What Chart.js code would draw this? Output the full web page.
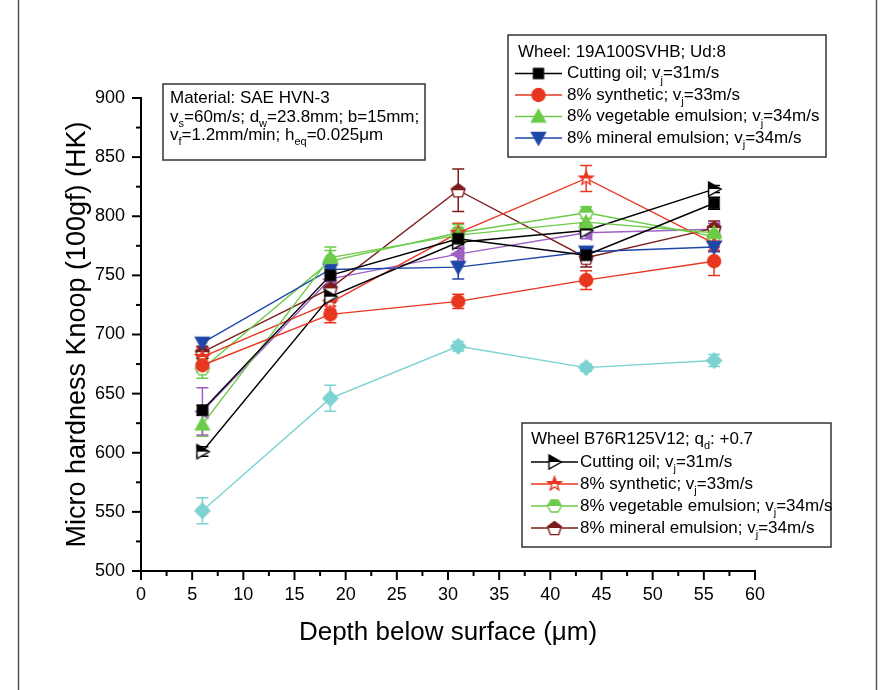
<!DOCTYPE html>
<html>
<head>
<meta charset="utf-8">
<script src="https://cdn.jsdelivr.net/npm/chart.js@4.4.0/dist/chart.umd.min.js"></script>
<style>
  html, body { margin: 0; padding: 0; background: #fff; }
  canvas { display: block; }
</style>
</head>
<body>
<canvas id="chart" width="883" height="690"></canvas>
<script>
// depth below surface (um)
const depth = [6, 18.5, 31, 43.5, 56];
const xTicks = [0, 5, 10, 15, 20, 25, 30, 35, 40, 45, 50, 55, 60];
const yTicks = [500, 550, 600, 650, 700, 750, 800, 850, 900];

// wheel 19A100SVHB
const oil19 = [636, 750, 781, 767, 811];
const oil19Err = [4, 5, 5, 4, 5];
const syn19 = [674, 717, 728, 746, 762];
const syn19Err = [6, 7, 6, 8, 12];
const veg19 = [624, 765, 784, 795, 786];
const veg19Err = [10, 9, 6, 6, 5];
const min19 = [693, 755, 757, 770, 774];
const min19Err = [4, 5, 10, 4, 4];

// wheel B76R125V12
const oilB76 = [601, 732, 778, 788, 823];
const oilB76Err = [4, 5, 5, 4, 3];
const synB76 = [681, 727, 786, 832, 777];
const synB76Err = [8, 6, 8, 11, 6];
const vegB76 = [671, 762, 786, 803, 783];
const vegB76Err = [8, 9, 7, 5, 6];
const minB76 = [685, 739, 822, 765, 790];
const minB76Err = [5, 6, 18, 8, 6];

// two more series without legend entry
const purple = [635, 747, 768, 786, 789];
const purpleErr = [20, 5, 6, 5, 5];
const cyan = [551, 646, 690, 672, 678];
const cyanErr = [11, 11, 4, 3, 5];

const C = {
    black: '#000000', red: '#e8361f', green: '#6ccb48', blue: '#1f47a8',
    brown: '#7b1d1d', purple: '#9e60c4', cyan: '#7dd2d2'
};

function shapePath(shape) {
    const p = new Path2D();
    if (shape === 'square') p.rect(-5, -5, 10, 10);
    else if (shape === 'circle') p.arc(0, 0, 6.5, 0, Math.PI * 2);
    else if (shape === 'up') { p.moveTo(0, -7); p.lineTo(7, 5.5); p.lineTo(-7, 5.5); p.closePath(); }
    else if (shape === 'down') { p.moveTo(0, 7); p.lineTo(7, -5.5); p.lineTo(-7, -5.5); p.closePath(); }
    else if (shape === 'right') { p.moveTo(7, 0); p.lineTo(-5.5, -7); p.lineTo(-5.5, 7); p.closePath(); }
    else if (shape === 'left') { p.moveTo(-7, 0); p.lineTo(5.5, -7); p.lineTo(5.5, 7); p.closePath(); }
    else if (shape === 'diamond') { p.moveTo(0, -7.5); p.lineTo(7.5, 0); p.lineTo(0, 7.5); p.lineTo(-7.5, 0); p.closePath(); }
    else if (shape === 'star') {
        for (let i = 0; i < 10; i++) {
            const r = i % 2 ? 3 : 7.2;
            const a = -Math.PI / 2 + i * Math.PI / 5;
            if (i === 0) p.moveTo(r * Math.cos(a), r * Math.sin(a));
            else p.lineTo(r * Math.cos(a), r * Math.sin(a));
        }
        p.closePath();
    } else if (shape === 'hexagon') {
        for (let i = 0; i < 6; i++) {
            const a = i * Math.PI / 3;
            if (i === 0) p.moveTo(7 * Math.cos(a), 7 * Math.sin(a));
            else p.lineTo(7 * Math.cos(a), 7 * Math.sin(a));
        }
        p.closePath();
    } else if (shape === 'pentagon') {
        for (let i = 0; i < 5; i++) {
            const a = -Math.PI / 2 + i * 2 * Math.PI / 5;
            if (i === 0) p.moveTo(7.2 * Math.cos(a), 7.2 * Math.sin(a) + 0.8);
            else p.lineTo(7.2 * Math.cos(a), 7.2 * Math.sin(a) + 0.8);
        }
        p.closePath();
    }
    return p;
}

function makeMarker(shape, color, half) {
    const c = document.createElement('canvas');
    c.width = 20; c.height = 20;
    const g = c.getContext('2d');
    g.translate(10, 10);
    const p = shapePath(shape);
    g.lineWidth = 1.4;
    g.strokeStyle = color;
    if (half) {
        g.fillStyle = '#fff';
        g.fill(p);
        g.save();
        g.beginPath();
        g.rect(-10, -10, 20, 10);
        g.clip();
        g.fillStyle = color;
        g.fill(p);
        g.restore();
    } else {
        g.fillStyle = color;
        g.fill(p);
    }
    g.stroke(p);
    return c;
}

const series = [
    { label: 'oil19', data: oil19, err: oil19Err, color: C.black, marker: makeMarker('square', C.black) },
    { label: 'syn19', data: syn19, err: syn19Err, color: C.red, marker: makeMarker('circle', C.red) },
    { label: 'veg19', data: veg19, err: veg19Err, color: C.green, marker: makeMarker('up', C.green) },
    { label: 'min19', data: min19, err: min19Err, color: C.blue, marker: makeMarker('down', C.blue) },
    { label: 'oilB76', data: oilB76, err: oilB76Err, color: C.black, marker: makeMarker('right', C.black, true) },
    { label: 'synB76', data: synB76, err: synB76Err, color: C.red, marker: makeMarker('star', C.red, true) },
    { label: 'vegB76', data: vegB76, err: vegB76Err, color: C.green, marker: makeMarker('hexagon', C.green, true) },
    { label: 'minB76', data: minB76, err: minB76Err, color: C.brown, marker: makeMarker('pentagon', C.brown, true) },
    { label: 'purple', data: purple, err: purpleErr, color: C.purple, marker: makeMarker('left', C.purple) },
    { label: 'cyan', data: cyan, err: cyanErr, color: C.cyan, marker: makeMarker('diamond', C.cyan) }
];

const FONT = '"Liberation Sans", Arial, sans-serif';

// text with subscripts: parts = [[text, isSub], ...]
function drawRich(ctx, parts, x, y, size) {
    ctx.textBaseline = 'middle';
    ctx.textAlign = 'left';
    ctx.fillStyle = '#000';
    for (const [t, sub] of parts) {
        ctx.font = (sub ? Math.round(size * 0.65) : size) + 'px ' + FONT;
        ctx.fillText(t, x, sub ? y + 7 : y);
        x += ctx.measureText(t).width;
    }
}

function drawBox(ctx, x, y, w, h) {
    ctx.save();
    ctx.fillStyle = '#fff';
    ctx.fillRect(x, y, w, h);
    ctx.strokeStyle = '#333';
    ctx.lineWidth = 1.5;
    ctx.strokeRect(x, y, w, h);
    ctx.restore();
}

function legendRow(ctx, s, x, y, parts, gap) {
    ctx.save();
    ctx.strokeStyle = s.color;
    ctx.lineWidth = 1.3;
    ctx.beginPath();
    ctx.moveTo(x, y);
    ctx.lineTo(x + 47, y);
    ctx.stroke();
    ctx.drawImage(s.marker, x + 23.5 - 10, y - 10);
    ctx.restore();
    drawRich(ctx, parts, x + gap, y, 17);
}

const rowLabels = [
    [['Cutting oil; v'], ['j', true], ['=31m/s']],
    [['8% synthetic; v'], ['j', true], ['=33m/s']],
    [['8% vegetable emulsion; v'], ['j', true], ['=34m/s']],
    [['8% mineral emulsion; v'], ['j', true], ['=34m/s']]
];

const errorBars = {
    id: 'errorBars',
    beforeDatasetsDraw(chart) {
        const { ctx, scales: { x, y } } = chart;
        ctx.save();
        ctx.lineWidth = 1.5;
        series.forEach((s) => {
            ctx.strokeStyle = s.color;
            s.data.forEach((v, i) => {
                const px = x.getPixelForValue(depth[i]);
                const top = y.getPixelForValue(v + s.err[i]);
                const bot = y.getPixelForValue(v - s.err[i]);
                ctx.beginPath();
                ctx.moveTo(px, top); ctx.lineTo(px, bot);
                ctx.moveTo(px - 6, top); ctx.lineTo(px + 6, top);
                ctx.moveTo(px - 6, bot); ctx.lineTo(px + 6, bot);
                ctx.stroke();
            });
        });
        ctx.restore();
    }
};

const decorations = {
    id: 'decorations',
    afterDraw(chart) {
        const { ctx, scales: { x, y } } = chart;
        // ticks (major + minor)
        ctx.save();
        ctx.strokeStyle = '#000';
        ctx.lineWidth = 2;
        for (let v = 500; v <= 900; v += 25) {
            const py = y.getPixelForValue(v);
            const len = v % 50 === 0 ? 9 : 5;
            ctx.beginPath(); ctx.moveTo(y.right, py); ctx.lineTo(y.right - len, py); ctx.stroke();
        }
        for (let v = 0; v <= 60; v += 2.5) {
            const px = x.getPixelForValue(v);
            const len = v % 5 === 0 ? 9 : 5;
            ctx.beginPath(); ctx.moveTo(px, x.top); ctx.lineTo(px, x.top + len); ctx.stroke();
        }
        // outer frame
        ctx.strokeStyle = '#555';
        ctx.lineWidth = 1.5;
        ctx.beginPath();
        ctx.moveTo(18.5, 0); ctx.lineTo(18.5, 690);
        ctx.moveTo(876.5, 0); ctx.lineTo(876.5, 690);
        ctx.stroke();
        ctx.restore();

        // material box
        drawBox(ctx, 163, 84, 262, 76);
        drawRich(ctx, [['Material: SAE HVN-3']], 170, 98, 17);
        drawRich(ctx, [['v'], ['s', true], ['=60m/s; d'], ['w', true], ['=23.8mm; b=15mm;']], 170, 117, 17);
        drawRich(ctx, [['v'], ['f', true], ['=1.2mm/min; h'], ['eq', true], ['=0.025\u03bcm']], 170, 135, 17);

        // legend 19A100SVHB
        drawBox(ctx, 508, 35, 318, 122);
        drawRich(ctx, [['Wheel: 19A100SVHB; Ud:8']], 518, 52, 17);
        for (let i = 0; i < 4; i++) legendRow(ctx, series[i], 515, 73.5 + i * 21.5, rowLabels[i], 52);

        // legend B76R125V12
        drawBox(ctx, 522, 423, 309, 124);
        drawRich(ctx, [['Wheel B76R125V12; q'], ['d', true], [': +0.7']], 531, 439, 17);
        for (let i = 0; i < 4; i++) legendRow(ctx, series[i + 4], 531, 462 + i * 22, rowLabels[i], 49);
    }
};

new Chart(document.getElementById('chart'), {
    type: 'line',
    data: {
        datasets: series.map((s) => ({
            label: s.label,
            data: s.data.map((v, i) => ({ x: depth[i], y: v })),
            borderColor: s.color,
            backgroundColor: s.color,
            borderWidth: 1.4,
            pointStyle: s.marker,
            pointRadius: 6,
            pointHoverRadius: 6,
            fill: false,
            tension: 0
        }))
    },
    options: {
        responsive: false,
        animation: false,
        events: [],
        layout: { padding: { left: 0, right: 128, top: 98, bottom: 0 } },
        plugins: { legend: { display: false }, tooltip: { enabled: false } },
        scales: {
            x: {
                type: 'linear',
                min: 0, max: 60,
                afterFit: (s) => { s.height = 119; },
                afterBuildTicks: (s) => { s.ticks = xTicks.map((v) => ({ value: v })); },
                grid: { display: false, drawTicks: false },
                border: { display: true, color: '#000', width: 2 },
                ticks: { color: '#000', font: { family: FONT, size: 18 }, padding: 13, maxRotation: 0, autoSkip: false },
                title: { display: true, text: 'Depth below surface (\u03bcm)', color: '#000', font: { family: FONT, size: 26 }, padding: { top: 0, bottom: 42 } }
            },
            y: {
                min: 500, max: 900,
                afterFit: (s) => { s.width = 141; },
                afterBuildTicks: (s) => { s.ticks = yTicks.map((v) => ({ value: v })); },
                grid: { display: false, drawTicks: false },
                border: { display: true, color: '#000', width: 2 },
                ticks: { color: '#000', font: { family: FONT, size: 18 }, padding: 16 },
                title: { display: true, text: 'Micro hardness Knoop (100gf) (HK)', color: '#000', font: { family: FONT, size: 27 }, padding: { top: 61, bottom: 0 } }
            }
        }
    },
    plugins: [errorBars, decorations]
});
</script>
</body>
</html>
